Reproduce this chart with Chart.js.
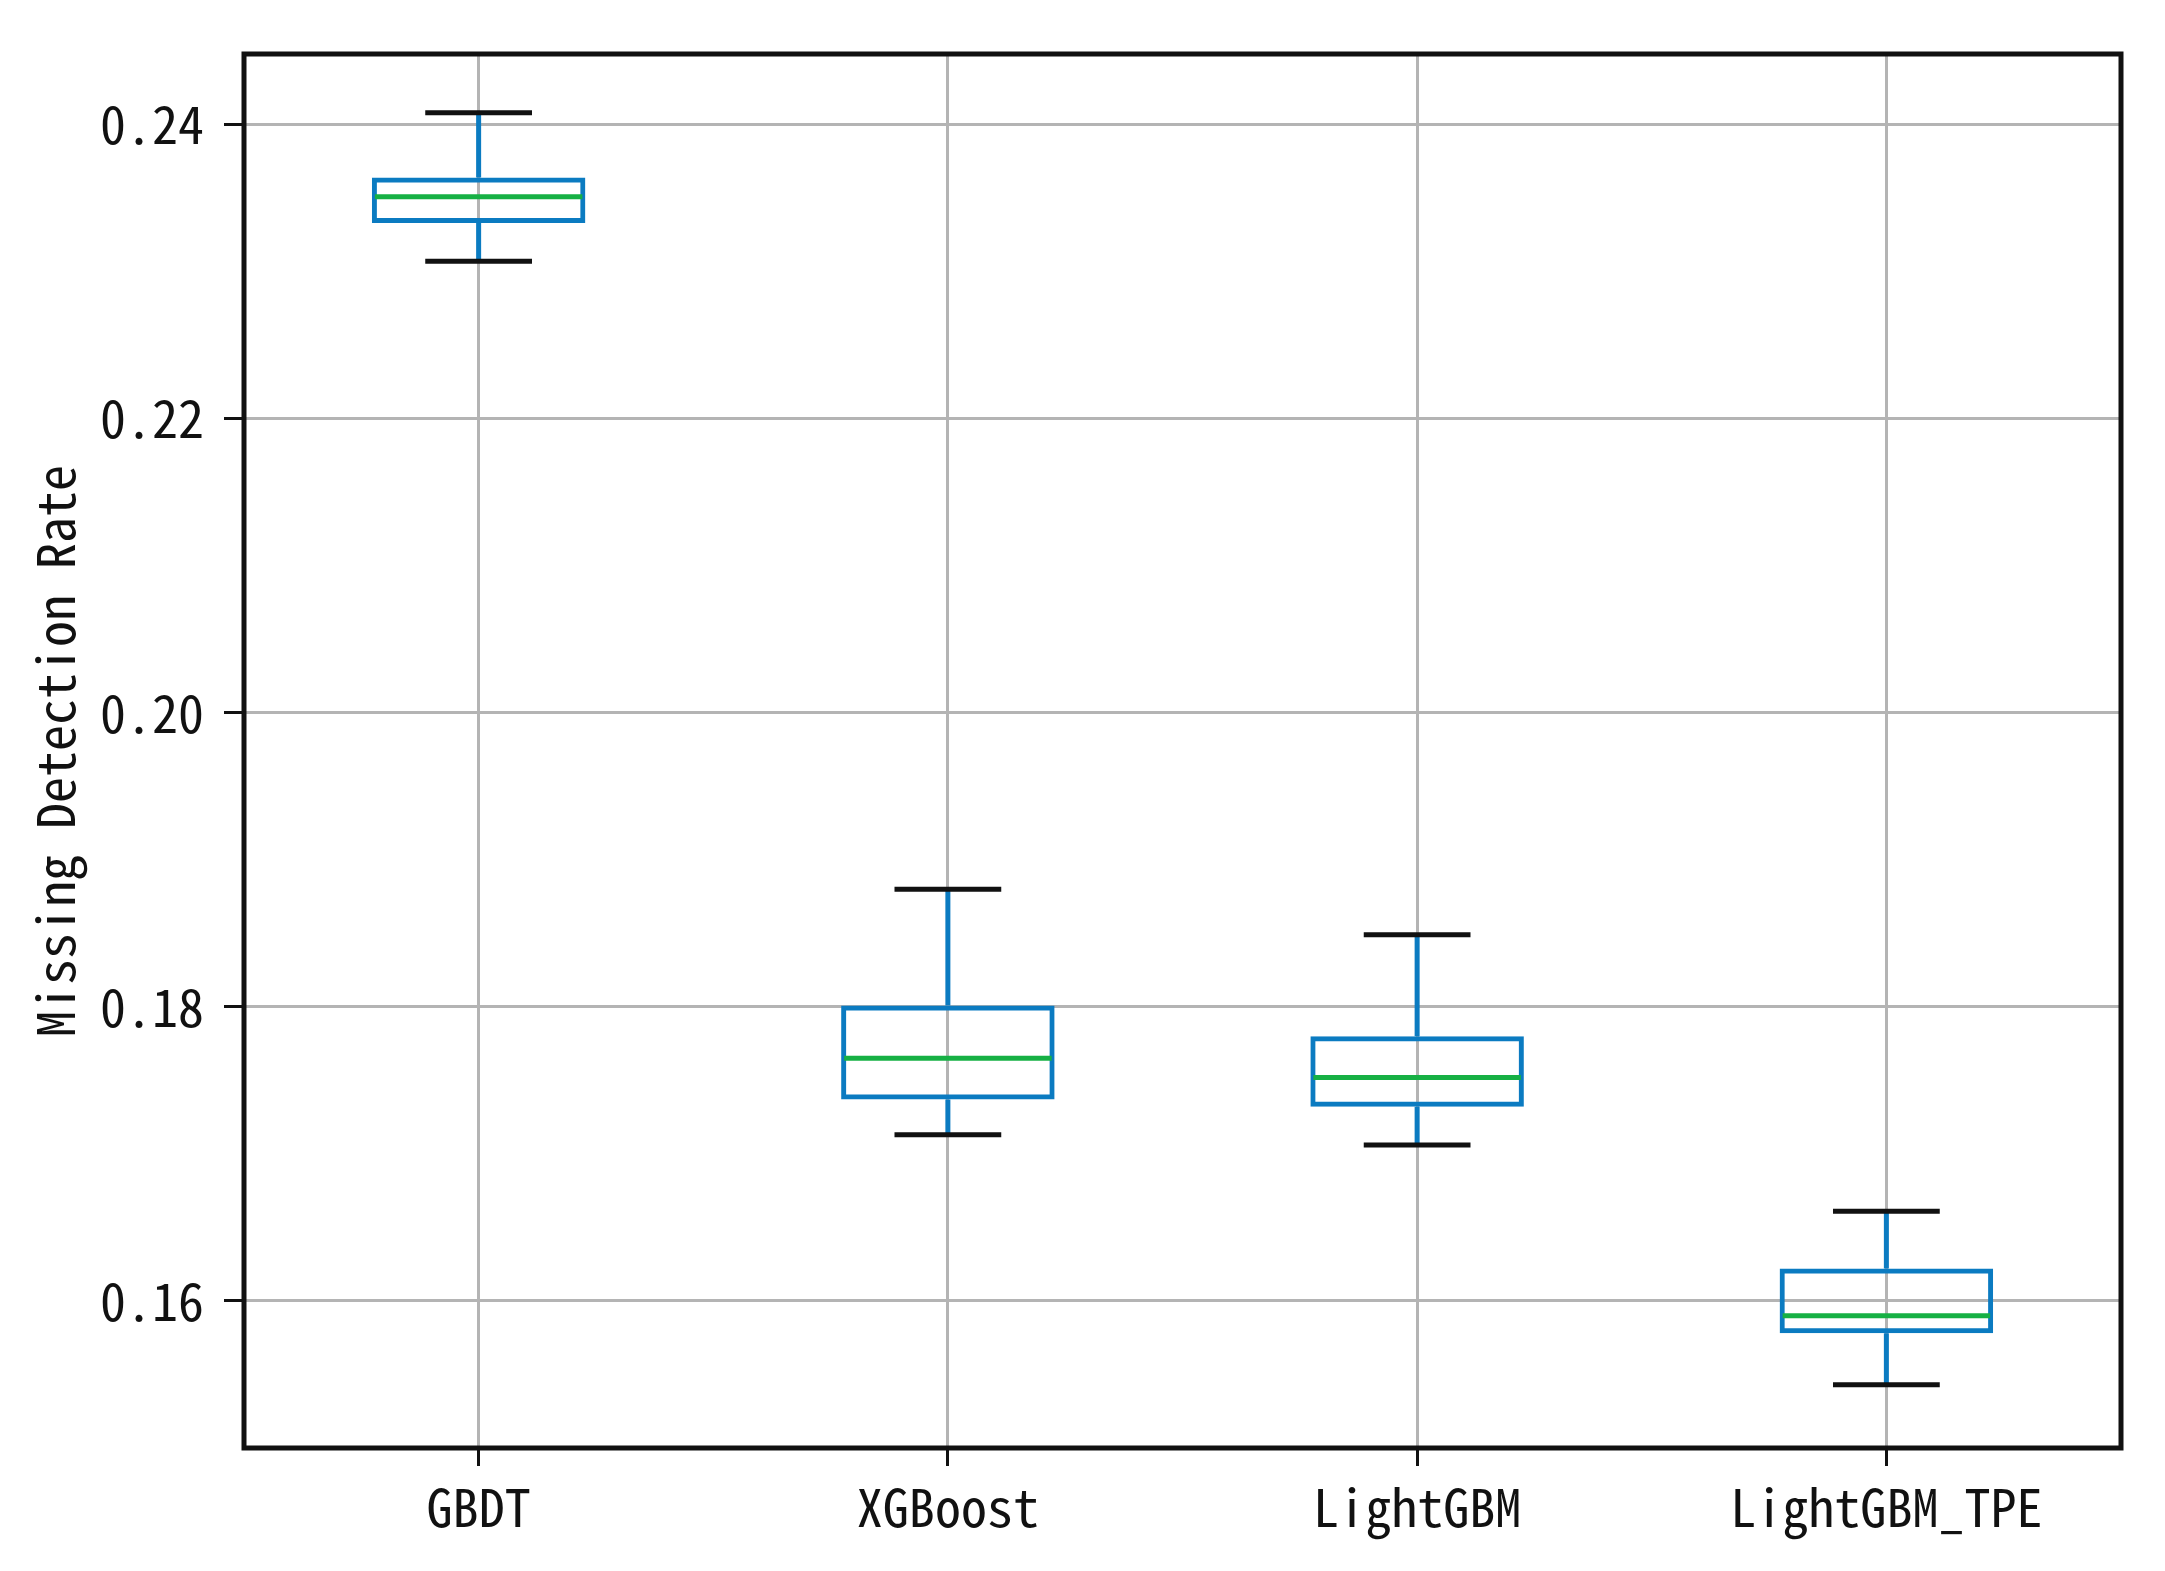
<!DOCTYPE html>
<html>
<head>
<meta charset="utf-8">
<script src="https://cdn.jsdelivr.net/npm/chart.js@4/dist/chart.umd.min.js"></script>
<style>
  html, body { margin: 0; padding: 0; background: #fff; }
  canvas { display: block; }
</style>
</head>
<body>
<canvas id="myChart" width="2165" height="1571"></canvas>
<script>
// box plot stats
var models = ['GBDT', 'XGBoost', 'LightGBM', 'LightGBM_TPE'];
var whiskerLow = [0.2307, 0.1713, 0.1706, 0.1543];
var q1 = [0.2333, 0.1737, 0.1732, 0.1578];
var medians = [0.2351, 0.1765, 0.1752, 0.1590];
var q3 = [0.2364, 0.1801, 0.1780, 0.1622];
var whiskerHigh = [0.2408, 0.1880, 0.1849, 0.1661];
var yTicks = [0.16, 0.18, 0.20, 0.22, 0.24];

var boxBlue = '#0b7bc1';
var medGreen = '#16b044';
var fontFam = "'Noto Sans Mono CJK SC', 'Noto Sans Mono CJK JP', 'DejaVu Sans Mono', monospace";

var boxes = [];
for (i = 0; i < models.length; i++) {
    boxes.push([q1[i], q3[i]]);
}

// whiskers, caps, medians and the frame
var boxParts = {
    id: 'boxParts',
    afterDatasetsDraw: function(chart) {
        var ctx = chart.ctx;
        var x = chart.scales.x, y = chart.scales.y;
        var bars = chart.getDatasetMeta(0).data;
        ctx.save();
        ctx.lineCap = 'butt';
        for (var i = 0; i < models.length; i++) {
            var cx = x.getPixelForValue(i);
            var half = bars[i].width / 2;
            // whiskers
            ctx.strokeStyle = boxBlue;
            ctx.lineWidth = 5;
            ctx.beginPath();
            ctx.moveTo(cx, y.getPixelForValue(q3[i]));
            ctx.lineTo(cx, y.getPixelForValue(whiskerHigh[i]));
            ctx.moveTo(cx, y.getPixelForValue(q1[i]));
            ctx.lineTo(cx, y.getPixelForValue(whiskerLow[i]));
            ctx.stroke();
            // caps
            ctx.strokeStyle = '#111';
            ctx.beginPath();
            ctx.moveTo(cx - half / 2, y.getPixelForValue(whiskerHigh[i]));
            ctx.lineTo(cx + half / 2, y.getPixelForValue(whiskerHigh[i]));
            ctx.moveTo(cx - half / 2, y.getPixelForValue(whiskerLow[i]));
            ctx.lineTo(cx + half / 2, y.getPixelForValue(whiskerLow[i]));
            ctx.stroke();
            // median
            ctx.strokeStyle = medGreen;
            ctx.beginPath();
            ctx.moveTo(cx - half + 3, y.getPixelForValue(medians[i]));
            ctx.lineTo(cx + half - 3, y.getPixelForValue(medians[i]));
            ctx.stroke();
        }
        var a = chart.chartArea;
        ctx.strokeStyle = '#111';
        ctx.lineWidth = 5;
        ctx.strokeRect(a.left, a.top, a.right - a.left, a.bottom - a.top);
        ctx.restore();
    }
};

var ctx = document.getElementById('myChart').getContext('2d');
var myChart = new Chart(ctx, {
    type: 'bar',
    data: {
        labels: models,
        datasets: [{
            label: 'box',
            data: boxes,
            backgroundColor: 'rgba(0,0,0,0)',
            borderColor: boxBlue,
            borderWidth: 5,
            borderSkipped: false,
            barPercentage: 0.455,
            categoryPercentage: 1
        }]
    },
    options: {
        responsive: false,
        devicePixelRatio: 1,
        animation: false,
        layout: { padding: { left: 0, top: 54, right: 44, bottom: 0 } },
        plugins: { legend: { display: false }, tooltip: { enabled: false } },
        scales: {
            x: {
                offset: true,
                border: { display: false },
                grid: { offset: false, color: '#b4b4b4', lineWidth: 3, tickColor: '#111', tickWidth: 3, tickLength: 18 },
                ticks: { color: '#111', padding: 10, maxRotation: 0, font: { family: fontFam, size: 52 } },
                afterFit: function(s) { s.height = 123; }
            },
            y: {
                min: 0.1500,
                max: 0.2448,
                border: { display: false },
                afterBuildTicks: function(s) {
                    s.ticks = yTicks.map(function(v) { return { value: v }; });
                },
                grid: { color: '#b4b4b4', lineWidth: 3, tickColor: '#111', tickWidth: 3, tickLength: 20 },
                ticks: {
                    color: '#111', padding: 20,
                    font: { family: fontFam, size: 52 },
                    callback: function(v) { return v.toFixed(2); }
                },
                title: {
                    display: true, text: 'Missing Detection Rate', color: '#111',
                    padding: { top: 24, bottom: 0 },
                    font: { family: fontFam, size: 52 }
                },
                afterFit: function(s) { s.width = 244; }
            }
        }
    },
    plugins: [boxParts]
});
</script>
</body>
</html>
